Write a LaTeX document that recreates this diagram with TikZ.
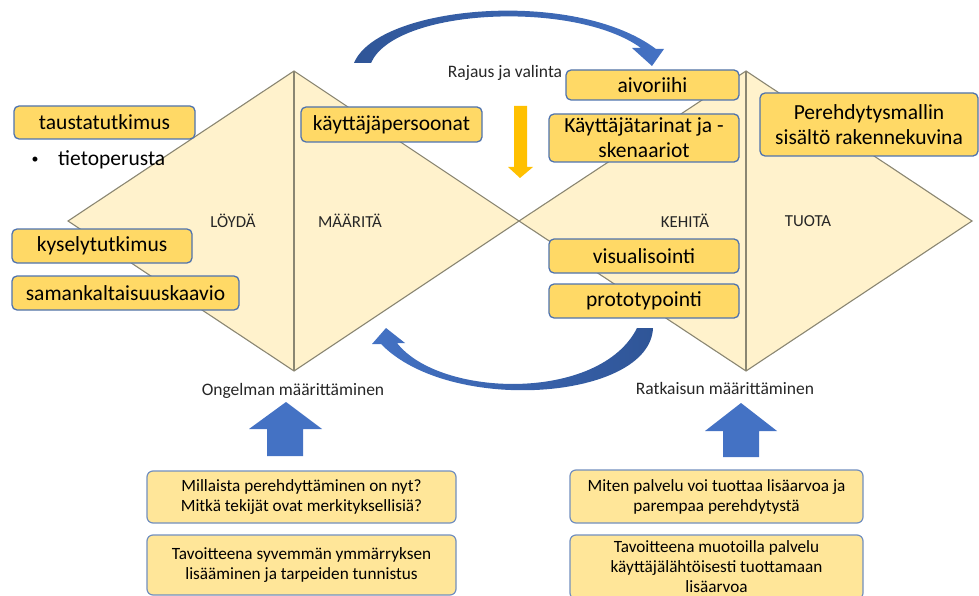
\documentclass[tikz,border=0pt]{standalone}
\usepackage{fontspec}
\setmainfont{Carlito}
\definecolor{diafill}{HTML}{FFF2CC}
\definecolor{diaedge}{HTML}{8A8672}
\definecolor{boxgold}{HTML}{FFD966}
\definecolor{boxlight}{HTML}{FFE699}
\definecolor{boxedge}{HTML}{4F73AE}
\definecolor{arrowdark}{HTML}{2F5597}
\definecolor{arrowblue}{HTML}{4472C4}
\definecolor{arroworange}{HTML}{FFC000}
\definecolor{inktext}{HTML}{262626}
\begin{document}
\begin{tikzpicture}[x=1pt,y=-1pt,
	diapart/.style={fill=diafill, draw=diaedge, line width=1.1pt, line join=miter},
	divider/.style={draw=diaedge, line width=1.1pt},
	method/.style={rectangle, rounded corners=5pt, fill=boxgold, draw=boxedge, line width=1.3pt, text=black, inner sep=0pt, font=\fontsize{21.5}{25}\selectfont, align=center},
	question/.style={rectangle, rounded corners=6pt, fill=boxlight, draw=boxedge!80, line width=1.2pt, text=black, inner sep=0pt, minimum width=309pt, font=\fontsize{17.2}{20}\selectfont, align=center},
	phase/.style={text=inktext, font=\fontsize{16.8}{20}\selectfont},
	caption/.style={text=inktext, font=\fontsize{17.5}{20}\selectfont}]
	\useasboundingbox (0,0) rectangle (979,596);
	\coordinate (LW) at ( 68, 221);
	\coordinate (LN) at (294,  71);
	\coordinate (LE) at (519, 221);
	\coordinate (LS) at (294, 371);
	\coordinate (RW) at (519, 221);
	\coordinate (RN) at (746,  71);
	\coordinate (RE) at (972, 221);
	\coordinate (RS) at (746, 371);
	\draw[diapart] (LW) -- (LN) -- (LE) -- (LS) -- cycle;
	\draw[diapart] (RW) -- (RN) -- (RE) -- (RS) -- cycle;
	\draw[divider] (LN) -- (LS);
	\draw[divider] (RN) -- (RS);
	\shade[left color=arrowdark, right color=arrowblue]
		(354, 63) .. controls (378, 5) and (575, -12) .. (656, 49) -- (664, 49) -- (652, 66) -- (632, 48) -- (641, 48)
		.. controls (575, 0) and (395, 8) .. (371, 63) -- cycle;
	\shade[left color=arrowblue, right color=arrowdark]
		(386, 328) -- (405, 343) -- (397, 343) .. controls (440, 398) and (600, 402) .. (637, 328) -- (653, 328)
		.. controls (650, 400) and (450, 415) .. (381, 344) -- (372, 344) -- cycle;
	\fill[arroworange] (514, 106) -- (527, 106) -- (527, 167) -- (533, 167) -- (520, 178) -- (508, 167) -- (514, 167) -- cycle;
	\fill[arrowblue] (286, 402) -- (322, 429) -- (303, 429) -- (303, 456) -- (267, 456) -- (267, 429) -- (249, 429) -- cycle;
	\fill[arrowblue] (741, 403) -- (777, 431) -- (759, 431) -- (759, 457) -- (723, 457) -- (723, 431) -- (705, 431) -- cycle;
	\node (loyda)		at (233, 221)	[phase]	{LÖYDÄ};
	\node (maarita)	at (350, 221)	[phase]	{MÄÄRITÄ};
	\node (kehita)		at (685, 221)	[phase]	{KEHITÄ};
	\node (tuota)		at (808, 221)	[phase]	{TUOTA};
	\node (rajaus)		at (505,  73)	[caption]	{Rajaus ja valinta};
	\node (ongelma)	at (293, 391)	[caption]	{Ongelman määrittäminen};
	\node (ratkaisu)	at (725, 388)	[caption]	{Ratkaisun määrittäminen};
	\node (tausta)		at (104.5, 122.5)	[method, minimum width=181pt, minimum height=33pt]	{taustatutkimus};
	\node (bullet)		at ( 35, 160)	[text=black, font=\fontsize{14}{16}\selectfont]	{•};
	\node (tieto)		at ( 58, 160)	[anchor=west, inner sep=0pt, text=black, font=\fontsize{21.5}{25}\selectfont]	{tietoperusta};
	\node (kysely)		at (102, 246)	[method, minimum width=180pt, minimum height=34pt]	{kyselytutkimus};
	\node (samank)		at (125.5, 293)	[method, minimum width=227pt, minimum height=34pt]	{samankaltaisuuskaavio};
	\node (persoonat)	at (391.5, 124.5)	[method, minimum width=181pt, minimum height=35pt]	{käyttäjäpersoonat};
	\node (aivo)		at (652.5, 85)	[method, minimum width=173pt, minimum height=30pt]	{aivoriihi};
	\node (tarinat)	at (644, 138)	[method, minimum width=190pt, minimum height=48pt]	{Käyttäjätarinat ja -\\skenaariot};
	\node (malli)		at (869, 124.5)	[method, minimum width=218pt, minimum height=63pt]	{Perehdytysmallin\\sisältö rakennekuvina};
	\node (visu)		at (644, 256)	[method, minimum width=190pt, minimum height=34pt]	{visualisointi};
	\node (proto)		at (644, 301)	[method, minimum width=190pt, minimum height=34pt]	{prototypointi};
	\node (nyt)		at (301.5, 497)	[question, minimum height=52pt]	{Millaista perehdyttäminen on nyt?\\Mitkä tekijät ovat merkityksellisiä?};
	\node (syvempi)	at (301.5, 565)	[question, minimum height=60pt]	{Tavoitteena syvemmän ymmärryksen\\lisääminen ja tarpeiden tunnistus};
	\node (arvo)		at (716.5, 496.5)	[question, minimum width=293pt, minimum height=53pt]	{Miten palvelu voi tuottaa lisäarvoa ja\\parempaa perehdytystä};
	\node (muotoilu)	at (716.5, 567)	[question, minimum width=293pt, minimum height=64pt]	{Tavoitteena muotoilla palvelu\\käyttäjälähtöisesti tuottamaan\\lisäarvoa};
\end{tikzpicture}
\end{document}
